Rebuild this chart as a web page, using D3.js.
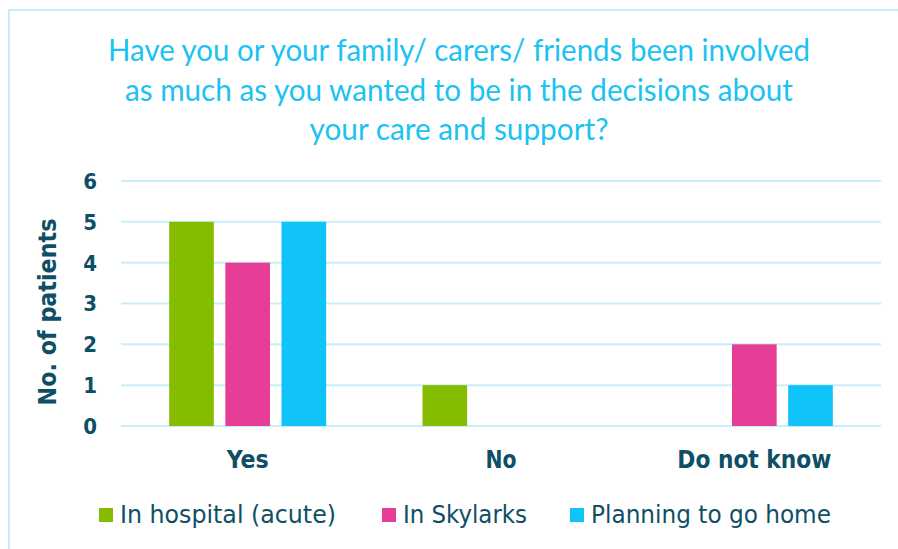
<!DOCTYPE html>
<html>
<head>
<meta charset="utf-8">
<script src="https://cdn.jsdelivr.net/npm/d3@7"></script>
<style>
  html, body { margin: 0; padding: 0; background: #fff; }
  svg { display: block; }
</style>
</head>
<body>
<svg id="chart" width="898" height="549"></svg>
<script>
const titleLines = [
  "Have you or your family/ carers/ friends been involved",
  "as much as you wanted to be in the decisions about",
  "your care and support?"
];
const categories = ["Yes", "No", "Do not know"];
const seriesNames = ["In hospital (acute)", "In Skylarks", "Planning to go home"];
const inHospital = [5, 1, 0];
const inSkylarks = [4, 0, 2];
const planningHome = [5, 0, 1];
const yTicks = [0, 1, 2, 3, 4, 5, 6];
const yLabel = "No. of patients";

const colors = ["#86BC00", "#E63E96", "#10C3F8"];
const seriesValues = [inHospital, inSkylarks, planningHome];
const textDark = "#0E4F66";
const gridColor = "#C8EEFA";
const condensed = "'DejaVu Sans Condensed', 'DejaVu Sans', Verdana, sans-serif";

const svg = d3.select("#chart");

// outer border
svg.append("rect")
  .attr("x", 9).attr("y", 10)
  .attr("width", 1000).attr("height", 1000)
  .attr("fill", "none")
  .attr("stroke", "#C5EEFA").attr("stroke-width", 2);

// title
const titleWidths = [702, 668, 299];
titleLines.forEach((t, i) => {
  svg.append("text")
    .attr("x", 459).attr("y", 61 + i * 39.5)
    .attr("text-anchor", "middle")
    .attr("font-family", "Lato, 'Open Sans', sans-serif")
    .attr("font-size", 30)
    .attr("fill", "#1CC2F2")
    .attr("textLength", titleWidths[i])
    .attr("lengthAdjust", "spacingAndGlyphs")
    .text(t);
});

const plot = { left: 121, right: 881, top: 181, bottom: 426 };

const x0 = d3.scaleBand().domain(categories).range([plot.left, plot.right]).paddingInner(0).paddingOuter(0);
const x1 = d3.scaleBand().domain(seriesNames).range([-78.5, 78.5]).paddingInner(0.205).paddingOuter(0);
const y = d3.scaleLinear().domain([0, 6]).range([plot.bottom, plot.top]);

// grid
svg.append("g").selectAll("line").data(yTicks).join("line")
  .attr("x1", plot.left).attr("x2", plot.right)
  .attr("y1", d => y(d)).attr("y2", d => y(d))
  .attr("stroke", gridColor).attr("stroke-width", 2);

// y tick labels
svg.append("g").selectAll("text").data(yTicks).join("text")
  .attr("x", 97).attr("y", d => y(d))
  .attr("dy", "0.36em")
  .attr("text-anchor", "end")
  .attr("font-family", condensed)
  .attr("font-weight", "bold")
  .attr("font-size", 22)
  .attr("fill", textDark)
  .text(d => d);

// y axis label
svg.append("text")
  .attr("transform", `translate(56,312) rotate(-90)`)
  .attr("text-anchor", "middle")
  .attr("font-family", condensed)
  .attr("font-weight", "bold")
  .attr("font-size", 24)
  .attr("fill", textDark)
  .attr("textLength", 187)
  .attr("lengthAdjust", "spacingAndGlyphs")
  .text(yLabel);

// bars
const barData = [];
categories.forEach((c, ci) => {
  seriesNames.forEach((s, si) => {
    barData.push({ cat: c, series: s, value: seriesValues[si][ci], color: colors[si] });
  });
});
svg.append("g").selectAll("rect").data(barData.filter(d => d.value > 0)).join("rect")
  .attr("x", d => x0(d.cat) + x0.bandwidth() / 2 + x1(d.series))
  .attr("width", x1.bandwidth())
  .attr("y", d => y(d.value))
  .attr("height", d => y(0) - y(d.value))
  .attr("fill", d => d.color);

// x labels
const xLabelWidths = { "Yes": 42, "No": 31, "Do not know": 154 };
svg.append("g").selectAll("text").data(categories).join("text")
  .attr("x", d => x0(d) + x0.bandwidth() / 2)
  .attr("y", 468)
  .attr("text-anchor", "middle")
  .attr("font-family", condensed)
  .attr("font-weight", "bold")
  .attr("font-size", 24)
  .attr("fill", textDark)
  .attr("textLength", d => xLabelWidths[d])
  .attr("lengthAdjust", "spacingAndGlyphs")
  .text(d => d);

// legend
const legendX = [99, 382, 570];
const legendW = [216, 124, 240];
const lg = svg.append("g");
seriesNames.forEach((s, i) => {
  lg.append("rect")
    .attr("x", legendX[i]).attr("y", 508)
    .attr("width", 14).attr("height", 14)
    .attr("fill", colors[i]);
  lg.append("text")
    .attr("x", legendX[i] + 21).attr("y", 523)
    .attr("font-family", condensed)
    .attr("font-size", 25)
    .attr("fill", textDark)
    .attr("textLength", legendW[i])
    .attr("lengthAdjust", "spacingAndGlyphs")
    .text(s);
});
</script>
</body>
</html>
